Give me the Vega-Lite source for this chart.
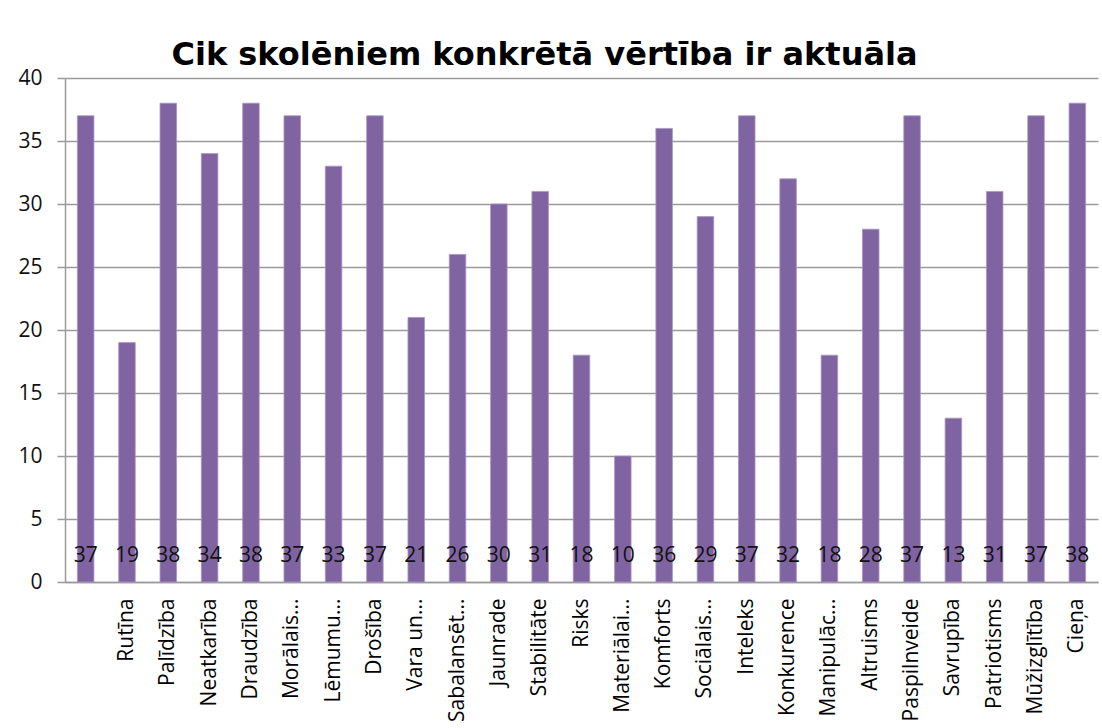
{
  "$schema": "https://vega.github.io/schema/vega-lite/v6.json",
  "autosize": "none",
  "width": 1033,
  "height": 504,
  "padding": {"left": 65, "top": 78, "right": 4, "bottom": 146},
  "background": "white",
  "title": {
    "text": "Cik skolēniem konkrētā vērtība ir aktuāla",
    "font": "DejaVu Sans",
    "fontSize": 32,
    "fontWeight": "bold",
    "color": "#000000",
    "anchor": "middle",
    "baseline": "alphabetic",
    "offset": 13,
    "dx": -37,
    "dy": 43
  },
  "data": {
    "values": [
      {"label": " ", "value": 37},
      {"label": "Rutīna", "value": 19},
      {"label": "Palīdzība", "value": 38},
      {"label": "Neatkarība", "value": 34},
      {"label": "Draudzība", "value": 38},
      {"label": "Morālais...", "value": 37},
      {"label": "Lēmumu...", "value": 33},
      {"label": "Drošība", "value": 37},
      {"label": "Vara un...", "value": 21},
      {"label": "Sabalansēt...", "value": 26},
      {"label": "Jaunrade", "value": 30},
      {"label": "Stabilitāte", "value": 31},
      {"label": "Risks", "value": 18},
      {"label": "Materiālai...", "value": 10},
      {"label": "Komforts", "value": 36},
      {"label": "Sociālais...", "value": 29},
      {"label": "Inteleks", "value": 37},
      {"label": "Konkurence", "value": 32},
      {"label": "Manipulāc...", "value": 18},
      {"label": "Altruisms", "value": 28},
      {"label": "Paspilnveide", "value": 37},
      {"label": "Savrupība", "value": 13},
      {"label": "Patriotisms", "value": 31},
      {"label": "Mūžizglītība", "value": 37},
      {"label": "Cieņa", "value": 38}
    ]
  },
  "encoding": {
    "x": {
      "field": "label",
      "type": "nominal",
      "sort": null,
      "scale": {"paddingInner": 0.6, "paddingOuter": 0.3},
      "axis": {
        "title": null,
        "labelAngle": -90,
        "labelAlign": "right",
        "labelBaseline": "middle",
        "labelPadding": 16,
        "labelFont": "Open Sans",
        "labelFontSize": 21,
        "labelColor": "#000000",
        "labelLimit": 300,
        "labelOverlap": false,
        "ticks": false,
        "domainColor": "#9a9a9a",
        "domainWidth": 1.5
      }
    }
  },
  "layer": [
    {
      "mark": {"type": "bar", "color": "#8064A2", "stroke": "#A895C0", "strokeWidth": 0.8},
      "encoding": {
        "y": {
          "field": "value",
          "type": "quantitative",
          "scale": {"domain": [0, 40], "nice": false},
          "axis": {
            "title": null,
            "values": [0, 5, 10, 15, 20, 25, 30, 35, 40],
            "grid": true,
            "gridColor": "#9a9a9a",
            "gridWidth": 1.5,
            "domainColor": "#9a9a9a",
            "domainWidth": 1.5,
            "tickColor": "#9a9a9a",
            "tickSize": 8,
            "tickWidth": 1.5,
            "labelPadding": 15,
            "labelFont": "Open Sans",
            "labelFontSize": 21,
            "labelColor": "#111111"
          }
        }
      }
    },
    {
      "mark": {"type": "text", "font": "Open Sans", "fontSize": 21, "color": "#111111", "baseline": "middle", "align": "center", "dy": -26},
      "encoding": {
        "y": {"datum": 0, "type": "quantitative"},
        "text": {"field": "value", "type": "quantitative"}
      }
    }
  ],
  "config": {
    "view": {"stroke": null}
  }
}
